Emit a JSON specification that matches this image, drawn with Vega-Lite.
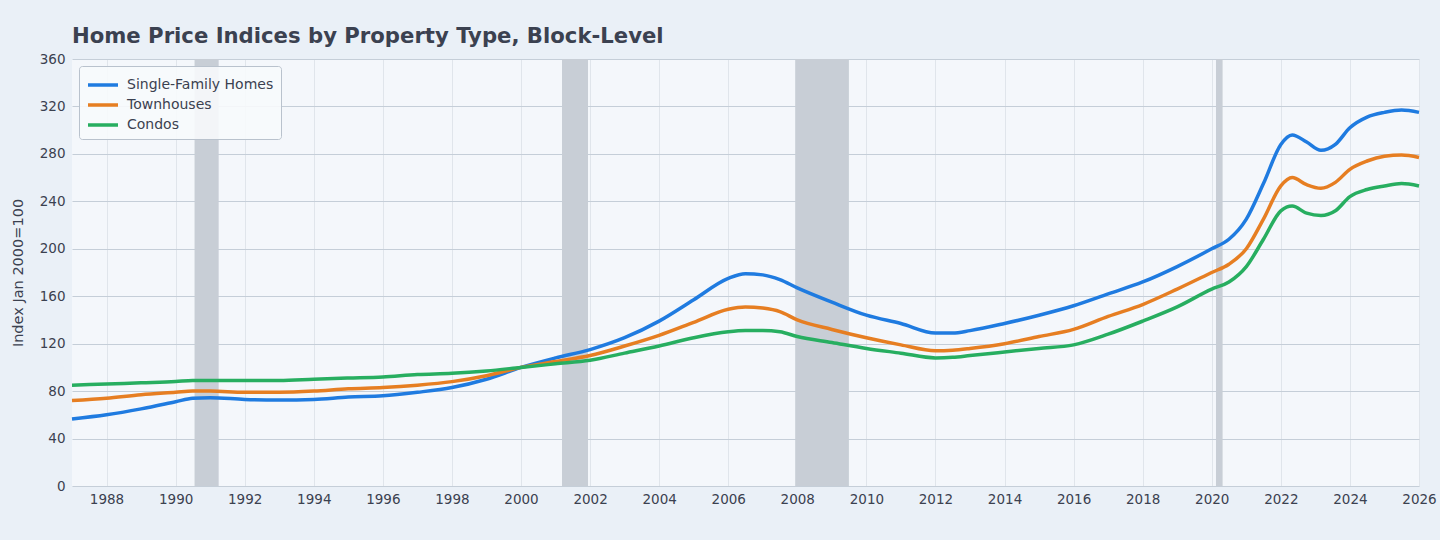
{
  "$schema": "https://vega.github.io/schema/vega-lite/v6.json",
  "width": 1347,
  "height": 427,
  "autosize": {"type": "none"},
  "padding": {"left": 72, "top": 59, "right": 21, "bottom": 54},
  "background": "#eaf0f7",
  "title": {
    "text": "Home Price Indices by Property Type, Block-Level",
    "anchor": "start",
    "frame": "group",
    "font": "DejaVu Sans",
    "fontSize": 21.2,
    "fontWeight": "bold",
    "color": "#3b4150",
    "offset": 5
  },
  "config": {
    "view": {"fill": "#f4f7fb", "stroke": null},
    "font": "DejaVu Sans",
    "axis": {
      "labelFont": "DejaVu Sans",
      "labelFontSize": 13.5,
      "labelColor": "#3b4150",
      "titleFont": "DejaVu Sans",
      "titleFontSize": 14.5,
      "titleFontWeight": "normal",
      "titleColor": "#3b4150",
      "ticks": false,
      "domain": false
    }
  },
  "datasets": {
    "idx": [
      {"date": "1987-01-01", "sf": 56.5, "th": 72, "co": 85},
      {"date": "1988-01-01", "sf": 60, "th": 74, "co": 86},
      {"date": "1989-01-01", "sf": 65, "th": 77, "co": 87},
      {"date": "1990-01-01", "sf": 71, "th": 79, "co": 88},
      {"date": "1990-07-01", "sf": 74, "th": 80, "co": 89},
      {"date": "1991-01-01", "sf": 74.5, "th": 80, "co": 89},
      {"date": "1992-01-01", "sf": 73, "th": 79, "co": 89},
      {"date": "1993-01-01", "sf": 72.5, "th": 79, "co": 89},
      {"date": "1994-01-01", "sf": 73, "th": 80, "co": 90},
      {"date": "1995-01-01", "sf": 75, "th": 82, "co": 91},
      {"date": "1996-01-01", "sf": 76, "th": 83, "co": 92},
      {"date": "1997-01-01", "sf": 79, "th": 85, "co": 94},
      {"date": "1998-01-01", "sf": 83, "th": 88, "co": 95},
      {"date": "1999-01-01", "sf": 90, "th": 93, "co": 97},
      {"date": "2000-01-01", "sf": 100, "th": 100, "co": 100},
      {"date": "2001-01-01", "sf": 108, "th": 105, "co": 103},
      {"date": "2002-01-01", "sf": 115, "th": 110, "co": 106},
      {"date": "2003-01-01", "sf": 125, "th": 118, "co": 112},
      {"date": "2004-01-01", "sf": 139, "th": 127, "co": 118},
      {"date": "2005-01-01", "sf": 157, "th": 138, "co": 125},
      {"date": "2006-01-01", "sf": 175, "th": 149, "co": 130},
      {"date": "2006-07-01", "sf": 179, "th": 151, "co": 131},
      {"date": "2007-01-01", "sf": 178, "th": 150, "co": 131},
      {"date": "2007-07-01", "sf": 174, "th": 147, "co": 130},
      {"date": "2008-01-01", "sf": 167, "th": 140, "co": 126},
      {"date": "2009-01-01", "sf": 155, "th": 132, "co": 121},
      {"date": "2010-01-01", "sf": 144, "th": 125, "co": 116},
      {"date": "2011-01-01", "sf": 137, "th": 119, "co": 112},
      {"date": "2012-01-01", "sf": 129, "th": 114, "co": 108},
      {"date": "2012-07-01", "sf": 129, "th": 114.5, "co": 108.5},
      {"date": "2013-01-01", "sf": 131, "th": 116, "co": 110},
      {"date": "2014-01-01", "sf": 137, "th": 120, "co": 113},
      {"date": "2015-01-01", "sf": 144, "th": 126, "co": 116},
      {"date": "2016-01-01", "sf": 152, "th": 132, "co": 119},
      {"date": "2017-01-01", "sf": 162, "th": 143, "co": 128},
      {"date": "2018-01-01", "sf": 172, "th": 153, "co": 139},
      {"date": "2019-01-01", "sf": 185, "th": 166, "co": 151},
      {"date": "2020-01-01", "sf": 200, "th": 180, "co": 166},
      {"date": "2020-07-01", "sf": 208, "th": 187, "co": 172},
      {"date": "2021-01-01", "sf": 225, "th": 200, "co": 185},
      {"date": "2021-07-01", "sf": 255, "th": 225, "co": 208},
      {"date": "2022-01-01", "sf": 288, "th": 253, "co": 232},
      {"date": "2022-05-01", "sf": 296, "th": 260, "co": 236},
      {"date": "2022-10-01", "sf": 290, "th": 254, "co": 230},
      {"date": "2023-03-01", "sf": 283, "th": 251, "co": 228},
      {"date": "2023-08-01", "sf": 288, "th": 256, "co": 232},
      {"date": "2024-01-01", "sf": 302, "th": 267, "co": 244},
      {"date": "2024-07-01", "sf": 311, "th": 274, "co": 250},
      {"date": "2025-01-01", "sf": 315, "th": 278, "co": 253},
      {"date": "2025-07-01", "sf": 317, "th": 279, "co": 255},
      {"date": "2026-01-01", "sf": 315, "th": 277, "co": 253}
    ],
    "rec": [
      {"start": "1990-07-20", "end": "1991-04-01"},
      {"start": "2001-03-10", "end": "2001-12-10"},
      {"start": "2007-12-10", "end": "2009-06-30"},
      {"start": "2020-02-15", "end": "2020-04-25"}
    ]
  },
  "layer": [
    {
      "data": {"name": "rec"},
      "mark": {"type": "rect", "color": "#c8ced6", "opacity": 1},
      "encoding": {
        "x": {"field": "start", "type": "temporal"},
        "x2": {"field": "end"}
      }
    },
    {
      "data": {"name": "idx"},
      "transform": [
        {"fold": ["sf", "th", "co"], "as": ["key", "value"]},
        {"lookup": "key", "from": {"data": {"values": [
          {"key": "sf", "series": "Single-Family Homes", "ord": 0},
          {"key": "th", "series": "Townhouses", "ord": 1},
          {"key": "co", "series": "Condos", "ord": 2}
        ]}, "key": "key", "fields": ["series", "ord"]}}
      ],
      "mark": {"type": "line", "interpolate": "monotone", "strokeWidth": 3.5},
      "encoding": {
        "x": {
          "field": "date",
          "type": "temporal",
          "title": null,
          "scale": {"domain": ["1987-01-01", "2026-01-01"], "nice": false},
          "axis": {
            "format": "%Y",
            "values": ["1988-01-01", "1990-01-01", "1992-01-01", "1994-01-01", "1996-01-01", "1998-01-01", "2000-01-01", "2002-01-01", "2004-01-01", "2006-01-01", "2008-01-01", "2010-01-01", "2012-01-01", "2014-01-01", "2016-01-01", "2018-01-01", "2020-01-01", "2022-01-01", "2024-01-01", "2026-01-01"],
            "grid": true,
            "gridColor": "#e0e5eb",
            "gridWidth": 1,
            "labelPadding": 6,
            "labelFlush": false
          }
        },
        "y": {
          "field": "value",
          "type": "quantitative",
          "title": "Index Jan 2000=100",
          "scale": {"domain": [0, 360], "nice": false},
          "axis": {
            "values": [0, 40, 80, 120, 160, 200, 240, 280, 320, 360],
            "grid": true,
            "gridColor": "#c5ced8",
            "gridWidth": 1.2,
            "labelPadding": 7,
            "titlePadding": 14
          }
        },
        "color": {
          "field": "series",
          "type": "nominal",
          "sort": ["Single-Family Homes", "Townhouses", "Condos"],
          "scale": {
            "domain": ["Single-Family Homes", "Townhouses", "Condos"],
            "range": ["#1f7be0", "#e67e22", "#27ae60"]
          },
          "legend": {
            "title": null,
            "orient": "top-left",
            "offset": 7,
            "padding": 7,
            "fillColor": "rgba(247,249,252,0.9)",
            "strokeColor": "#b9c2cd",
            "cornerRadius": 3,
            "symbolType": "M-1,0H2",
            "symbolStrokeWidth": 3.5,
            "symbolSize": 400,
            "labelFont": "DejaVu Sans",
            "labelFontSize": 14,
            "labelColor": "#3b4150",
            "labelOffset": 17,
            "rowPadding": 1
          }
        },
        "order": {"field": "ord"}
      }
    }
  ]
}
